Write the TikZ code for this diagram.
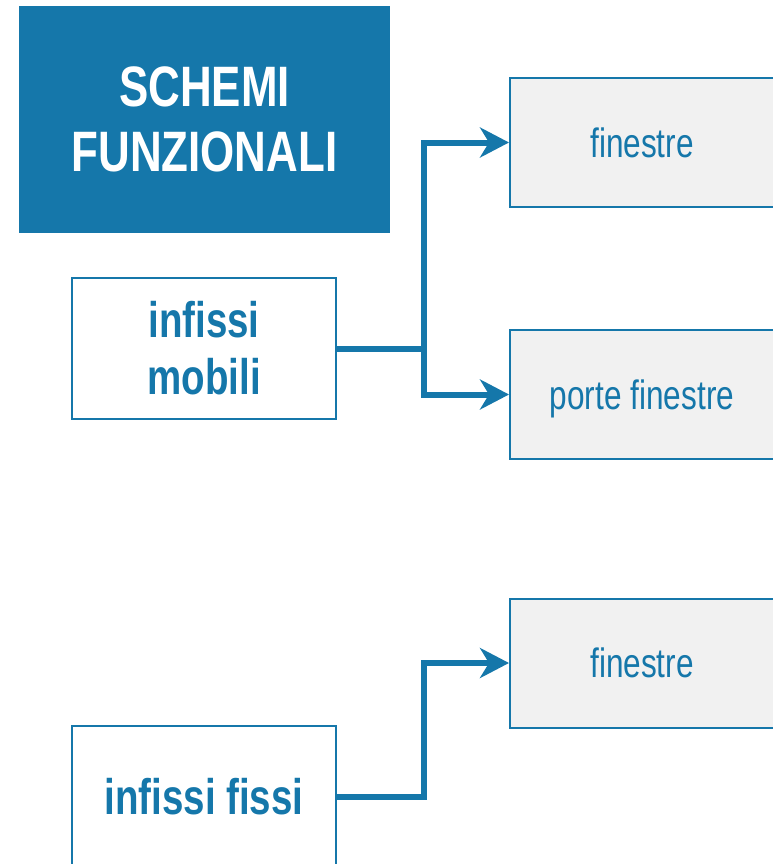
\documentclass[tikz,border=0pt]{standalone}
\usepackage{fontspec}
\setmainfont{Liberation Sans}[FakeStretch=0.77]
\usetikzlibrary{arrows.meta}
\definecolor{sblue}{HTML}{1577AA}
\definecolor{sgray}{HTML}{F1F1F1}
\tikzset{
  titlebox/.style={fill=sblue, draw=none, minimum width=371pt, minimum height=227pt, text=white, font=\fontsize{57}{65}\selectfont\bfseries, align=center, inner sep=0pt},
  leftbox/.style={fill=white, draw=sblue, line width=2pt, minimum width=264pt, minimum height=141pt, text=sblue, font=\fontsize{50}{57}\selectfont\bfseries, align=center, inner sep=0pt},
  rightbox/.style={fill=sgray, draw=sblue, line width=2pt, minimum width=264pt, minimum height=129pt, text=sblue, font=\fontsize{41}{48}\selectfont, text depth=0pt, inner sep=0pt},
  conn/.style={draw=sblue, line width=6pt},
  arr/.style={conn, -{Stealth[length=29pt, width=30pt, inset=9pt]}},
}
\begin{document}
\begin{tikzpicture}[x=1pt,y=-1pt]
\useasboundingbox (0,0) rectangle (773,864);
\begin{scope}
\clip (0,0) rectangle (773,864);
\node[titlebox] (title) at (204.5,119.5) {SCHEMI\\FUNZIONALI};
\node[leftbox] (mob) at (204,348.5) {infissi\\mobili};
\node[leftbox] (fix) at (204,796.5) {infissi fissi};
\node[rightbox] (fin1) at (642,142.5) {finestre};
\node[rightbox] (porte) at (642,394.5) {porte finestre};
\node[rightbox] (fin2) at (642,663) {finestre};
\coordinate (j1) at (423.5,348.5);
\coordinate (j2) at (423.5,796.5);
\draw[conn] (mob.east) -- (j1);
\draw[arr] (j1) |- (fin1.west);
\draw[arr] (j1) |- (porte.west);
\draw[arr] (fix.east) -- (j2) |- (fin2.west);
\end{scope}
\end{tikzpicture}
\end{document}
